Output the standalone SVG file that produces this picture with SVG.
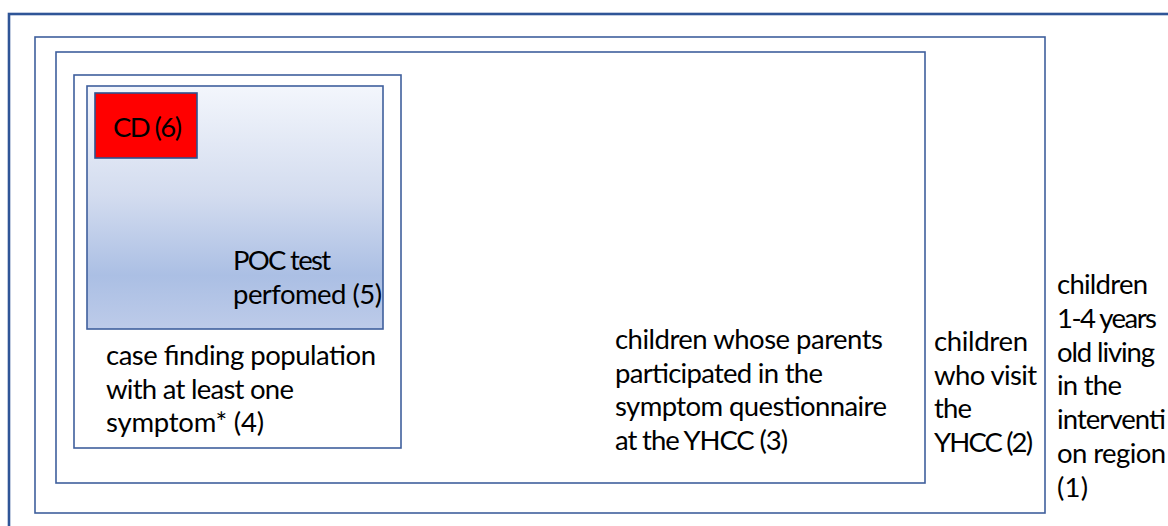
<svg xmlns="http://www.w3.org/2000/svg" width="1168" height="526" viewBox="0 0 1168 526">
<style>
.box{fill:#ffffff;stroke:#3F5F9D;stroke-width:1.6}
.t{font-family:Lato,"Liberation Sans",sans-serif;font-size:27.5px;fill:#000000}
</style>
<defs>
<linearGradient id="g" x1="0" y1="0" x2="0" y2="1">
<stop offset="0" stop-color="#F3F6FC"/>
<stop offset="0.45" stop-color="#D3DCEF"/>
<stop offset="0.78" stop-color="#ABBFE4"/>
<stop offset="1" stop-color="#BDCBE9"/>
</linearGradient>
</defs>
<rect width="1168" height="526" fill="#ffffff"/>
<g id="frame">
<rect x="9" y="14" width="1200" height="560" fill="none" stroke="#2F5597" stroke-width="2.6"/>
</g>
<g id="node1">
<rect class="box" x="35" y="37" width="1010" height="476"/>
<text class="t" x="1057" y="294" textLength="91">children</text>
<text class="t" x="1057" y="328" textLength="100">1-4 years</text>
<text class="t" x="1057" y="362" textLength="98">old living</text>
<text class="t" x="1057" y="395" textLength="65">in the</text>
<text class="t" x="1057" y="429" textLength="109">interventi</text>
<text class="t" x="1057" y="463" textLength="109">on region</text>
<text class="t" x="1057" y="497" textLength="31">(1)</text>
</g>
<g id="node2">
<rect class="box" x="56" y="52" width="869" height="431"/>
<text class="t" x="934" y="351" textLength="94">children</text>
<text class="t" x="934" y="384.5" textLength="103">who visit</text>
<text class="t" x="934" y="418" textLength="38">the</text>
<text class="t" x="934" y="451.5" textLength="99">YHCC (2)</text>
</g>
<g id="node3">
<rect class="box" x="74" y="75" width="327" height="373"/>
<text class="t" x="615" y="349" textLength="268">children whose parents</text>
<text class="t" x="615" y="382.5" textLength="208">participated in the</text>
<text class="t" x="615" y="416" textLength="272">symptom questionnaire</text>
<text class="t" x="615" y="449.5" textLength="173">at the YHCC (3)</text>
</g>
<g id="node4">
<rect x="87" y="86" width="296" height="243" fill="url(#g)" stroke="#3F5F9D" stroke-width="1.6"/>
<text class="t" x="106" y="365" textLength="270">case finding population</text>
<text class="t" x="106" y="398.5" textLength="188">with at least one</text>
<text class="t" x="106" y="432" textLength="158">symptom* (4)</text>
</g>
<g id="node5">
<text class="t" x="233" y="270" textLength="98">POC test</text>
<text class="t" x="233" y="303.5" textLength="149">perfomed (5)</text>
</g>
<g id="node6">
<rect x="95" y="93" width="102" height="65" fill="#FF0000" stroke="#2F528F" stroke-width="1.6"/>
<text class="t" x="113" y="137" textLength="69">CD (6)</text>
</g>
<g id="connectors"></g>
</svg>
